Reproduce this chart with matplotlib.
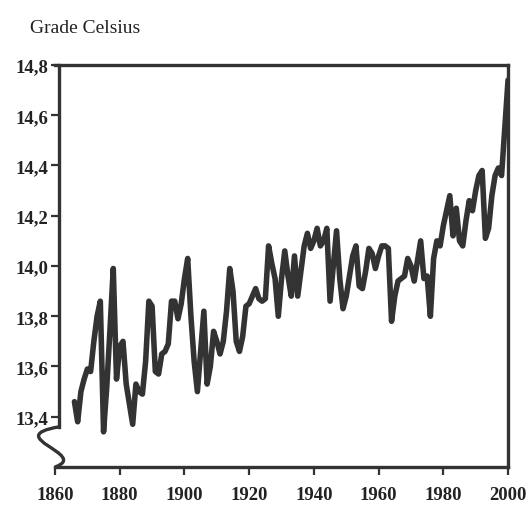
#!/usr/bin/env python3
"""Global mean temperature 1866-2000, scanned-chart style."""
import matplotlib
matplotlib.use("Agg")
import matplotlib.pyplot as plt
from matplotlib.path import Path
import matplotlib.patches as mpatches

matplotlib.rcParams["font.family"] = ["Liberation Serif", "DejaVu Serif"]

INK = "#333333"

# ── data ──────────────────────────────────────────────────────────────────────
years = list(range(1866, 2001))
temps = [
    13.46, 13.38, 13.50, 13.55, 13.59, 13.58, 13.70, 13.80, 13.86, 13.34,  # 1866-1875
    13.52, 13.75, 13.99, 13.55, 13.68, 13.70, 13.53, 13.45, 13.37, 13.53,  # 1876-1885
    13.50, 13.49, 13.62, 13.86, 13.84, 13.58, 13.57, 13.65, 13.66, 13.69,  # 1886-1895
    13.86, 13.86, 13.79, 13.85, 13.95, 14.03, 13.80, 13.62, 13.50, 13.66,  # 1896-1905
    13.82, 13.53, 13.60, 13.74, 13.70, 13.65, 13.70, 13.82, 13.99, 13.90,  # 1906-1915
    13.70, 13.66, 13.72, 13.84, 13.85, 13.88, 13.91, 13.87, 13.86, 13.87,  # 1916-1925
    14.08, 14.01, 13.95, 13.80, 13.95, 14.06, 13.96, 13.88, 14.04, 13.88,  # 1926-1935
    13.98, 14.08, 14.13, 14.07, 14.10, 14.15, 14.08, 14.10, 14.15, 13.86,  # 1936-1945
    14.00, 14.14, 13.95, 13.83, 13.88, 13.96, 14.04, 14.08, 13.92, 13.91,  # 1946-1955
    13.98, 14.07, 14.05, 13.99, 14.04, 14.08, 14.08, 14.07, 13.78, 13.88,  # 1956-1965
    13.94, 13.95, 13.96, 14.03, 14.00, 13.94, 14.02, 14.10, 13.95, 13.96,  # 1966-1975
    13.80, 14.03, 14.10, 14.08, 14.16, 14.22, 14.28, 14.12, 14.23, 14.10,  # 1976-1985
    14.08, 14.18, 14.26, 14.22, 14.30, 14.36, 14.38, 14.11, 14.15, 14.28,  # 1986-1995
    14.36, 14.39, 14.36, 14.55, 14.74,                                      # 1996-2000
]
x_ticks = [1860, 1880, 1900, 1920, 1940, 1960, 1980, 2000]
y_ticks = [13.4, 13.6, 13.8, 14.0, 14.2, 14.4, 14.6, 14.8]

# ── figure ────────────────────────────────────────────────────────────────────
fig = plt.figure(figsize=(5.28, 5.06), dpi=100)
ax = fig.add_axes([0.1042, 0.0751, 0.858, 0.7945])

ax.plot(years, temps, color=INK, lw=4.0, solid_joinstyle="round",
        solid_capstyle="round")

ax.set_xlim(1860, 2000)
ax.set_ylim(13.2, 14.8)
ax.set_xticks(x_ticks)
ax.set_yticks(y_ticks)
ax.set_xticklabels([str(y) for y in x_ticks])
ax.set_yticklabels([f"{v:.1f}".replace(".", ",") for v in y_ticks])

for s in ax.spines.values():
    s.set_linewidth(2.4)
    s.set_color(INK)
ax.spines["left"].set_position(("data", 1861.3))
ax.spines["left"].set_bounds(13.36, 14.8)

ax.tick_params(axis="both", colors=INK, labelcolor="#222222", width=1.6,
               length=6, labelsize=13.5)
ax.tick_params(axis="x", pad=8)
ax.tick_params(axis="y", pad=2)
for lab in ax.get_xticklabels() + ax.get_yticklabels():
    lab.set_fontweight("bold")

# axis break squiggle at the bottom of the y axis
verts = [(1861.3, 13.36), (1843, 13.32), (1871, 13.25), (1860, 13.2)]
codes = [Path.MOVETO, Path.CURVE4, Path.CURVE4, Path.CURVE4]
ax.add_patch(mpatches.PathPatch(Path(verts, codes), fill=False, lw=2.4,
                                edgecolor=INK, clip_on=False))

fig.text(30 / 528, 1 - 33 / 506, "Grade Celsius", fontsize=14,
         color="#222222", ha="left", va="baseline")

fig.savefig("out.png", dpi=100)
plt.close(fig)
